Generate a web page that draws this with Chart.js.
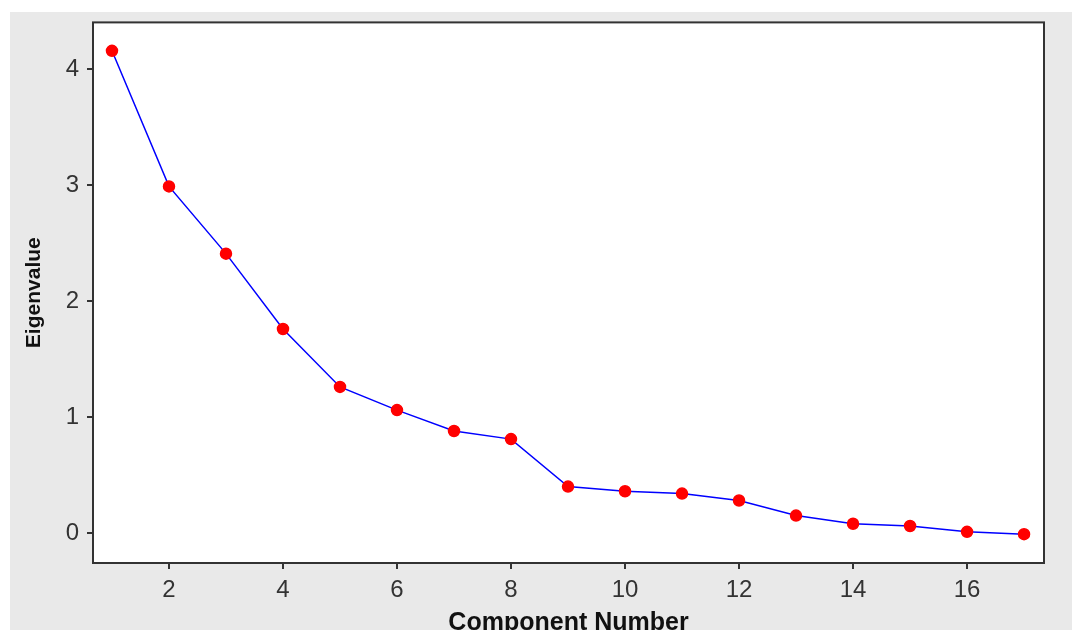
<!DOCTYPE html>
<html>
<head>
<meta charset="utf-8">
<script src="https://cdn.jsdelivr.net/npm/chart.js@4"></script>
<style>
  html, body { margin: 0; padding: 0; background: #ffffff; }
  #wrap { width: 1072px; height: 630px; }
</style>
</head>
<body>
<div id="wrap"><canvas id="scree"></canvas></div>
<script>
// data
const components = [1, 2, 3, 4, 5, 6, 7, 8, 9, 10, 11, 12, 13, 14, 15, 16, 17];
const eigenvalues = [4.16, 2.99, 2.41, 1.76, 1.26, 1.06, 0.88, 0.81, 0.40, 0.36, 0.34, 0.28, 0.15, 0.08, 0.06, 0.01, -0.01];
const xTicks = [2, 4, 6, 8, 10, 12, 14, 16];
const yTicks = [0, 1, 2, 3, 4];

const points = components.map((c, i) => ({ x: c, y: eigenvalues[i] }));

// gray panel + white plot box + frame
const panelBg = {
  id: 'panelBg',
  beforeDraw(chart) {
    const ctx = chart.ctx;
    const a = chart.chartArea;
    ctx.save();
    ctx.fillStyle = '#e9e9e9';
    ctx.fillRect(10, 12, chart.width - 10, chart.height - 12);
    ctx.fillStyle = '#ffffff';
    ctx.fillRect(a.left, a.top, a.right - a.left, a.bottom - a.top);
    ctx.restore();
  },
  afterDatasetsDraw(chart) {
    const ctx = chart.ctx;
    const a = chart.chartArea;
    ctx.save();
    ctx.strokeStyle = '#333333';
    ctx.lineWidth = 2;
    ctx.strokeRect(a.left, a.top, a.right - a.left, a.bottom - a.top);
    ctx.restore();
  }
};

const tickFont = { family: 'Liberation Sans', size: 24 };

new Chart(document.getElementById('scree'), {
  type: 'line',
  data: {
    datasets: [{
      data: points,
      borderColor: '#0000ff',
      borderWidth: 1.5,
      pointBackgroundColor: '#ff0000',
      pointBorderColor: '#ff0000',
      pointRadius: 5.5,
      tension: 0
    }]
  },
  options: {
    responsive: true,
    maintainAspectRatio: false,
    animation: false,
    // bottom title is cut off by the frame edge in the original
    layout: { padding: { top: 22, right: 28, left: 0, bottom: -6 } },
    plugins: { legend: { display: false }, tooltip: { enabled: false } },
    scales: {
      x: {
        type: 'linear',
        min: 0.667,
        max: 17.35,
        afterBuildTicks: (s) => { s.ticks = xTicks.map(v => ({ value: v })); },
        afterFit: (s) => { s.height = 73; },
        grid: { drawOnChartArea: false, tickLength: 6, color: '#333333', lineWidth: 2 },
        border: { display: false },
        ticks: { color: '#333333', font: tickFont, padding: 7, maxRotation: 0 },
        title: { display: true, text: 'Component Number', color: '#111111', font: { family: 'Liberation Sans', size: 25, weight: 'bold', lineHeight: 1 }, padding: { top: 0, bottom: 0 } }
      },
      y: {
        min: -0.259,
        max: 4.405,
        afterBuildTicks: (s) => { s.ticks = yTicks.map(v => ({ value: v })); },
        afterFit: (s) => { s.width = 93; },
        grid: { drawOnChartArea: false, tickLength: 6, color: '#333333', lineWidth: 2 },
        border: { display: false },
        ticks: { color: '#333333', font: tickFont, padding: 8 },
        title: { display: true, text: 'Eigenvalue', color: '#111111', font: { family: 'Liberation Sans', size: 21, weight: 'bold', lineHeight: 1 }, padding: { top: 24, bottom: 0 } }
      }
    }
  },
  plugins: [panelBg]
});
</script>
</body>
</html>
